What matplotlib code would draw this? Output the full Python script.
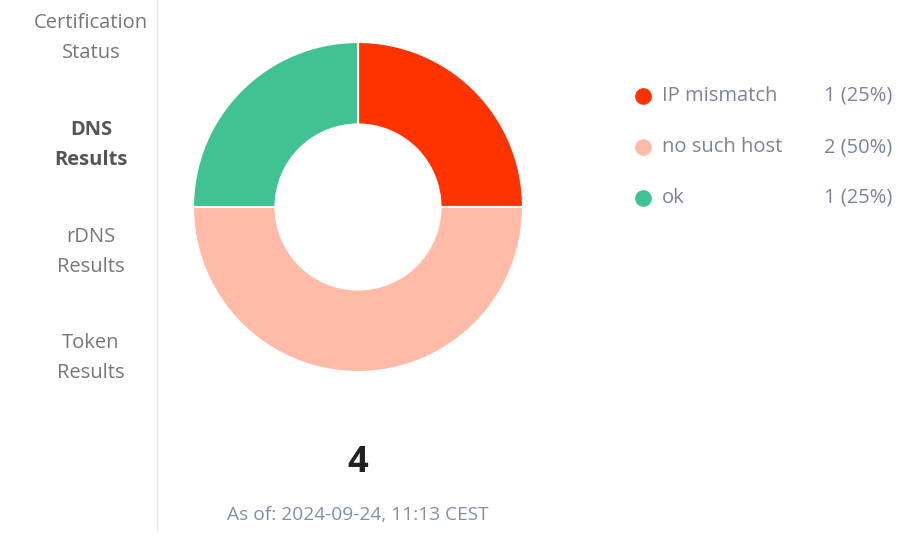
import matplotlib
matplotlib.use("Agg")
import matplotlib.pyplot as plt
from matplotlib.lines import Line2D

labels = ["IP mismatch", "no such host", "ok"]
values = [1, 2, 1]
colors = ["#FF3300", "#FFBBA8", "#40C292"]
nav_items = ["Certification\nStatus", "DNS\nResults", "rDNS\nResults", "Token\nResults"]
active_nav = "DNS\nResults"
timestamp = "As of: 2024-09-24, 11:13 CEST"

W, H = 923, 545
plt.rcParams['font.family'] = ['Open Sans', 'DejaVu Sans']
fig = plt.figure(figsize=(W / 100, H / 100), dpi=100)
fig.patch.set_facecolor("white")

def fx(x):
    return x / W

def fy(y):
    return 1 - y / H

# sidebar separator
fig.add_artist(Line2D([fx(157), fx(157)], [fy(0), fy(530)], color="#e8e8e8", lw=1))

# sidebar nav
nav_y = [38, 145, 252, 358]
for item, y in zip(nav_items, nav_y):
    bold = item == active_nav
    fig.text(fx(91), fy(y), item, ha="center", va="center", fontsize=14.5,
             color="#555555" if bold else "#777777",
             fontweight="bold" if bold else "normal", linespacing=1.68)

# donut
cx, cy, r = 358, 207, 165
ax = fig.add_axes([fx(cx - r), fy(cy + r), 2 * r / W, 2 * r / H])
ax.pie(values, colors=colors, startangle=90, counterclock=False, radius=1,
       wedgeprops=dict(width=0.5, edgecolor="white", linewidth=1.5))
ax.set_xlim(-1, 1)
ax.set_ylim(-1, 1)
ax.set_aspect("equal")
ax.axis("off")

# legend
total = sum(values)
leg_y = [96, 147, 198]
for lab, v, c, y in zip(labels, values, colors, leg_y):
    fig.add_artist(Line2D([fx(643)], [fy(y)], marker="o", markersize=11,
                          markerfacecolor=c, markeredgecolor=c, lw=0))
    fig.text(fx(662), fy(y), lab, ha="left", va="center", fontsize=14.5, color="#7a8598")
    fig.text(fx(892), fy(y), f"{v} ({v / total * 100:.0f}%)", ha="right", va="center",
             fontsize=14.5, color="#7a8598")

# total
fig.text(fx(358), fy(463), str(total), ha="center", va="center", fontsize=26,
         fontweight="bold", color="#222222")
fig.text(fx(358), fy(515), timestamp, ha="center", va="center", fontsize=13.8,
         color="#8090a8")

fig.savefig("out.png", dpi=100, facecolor="white")
